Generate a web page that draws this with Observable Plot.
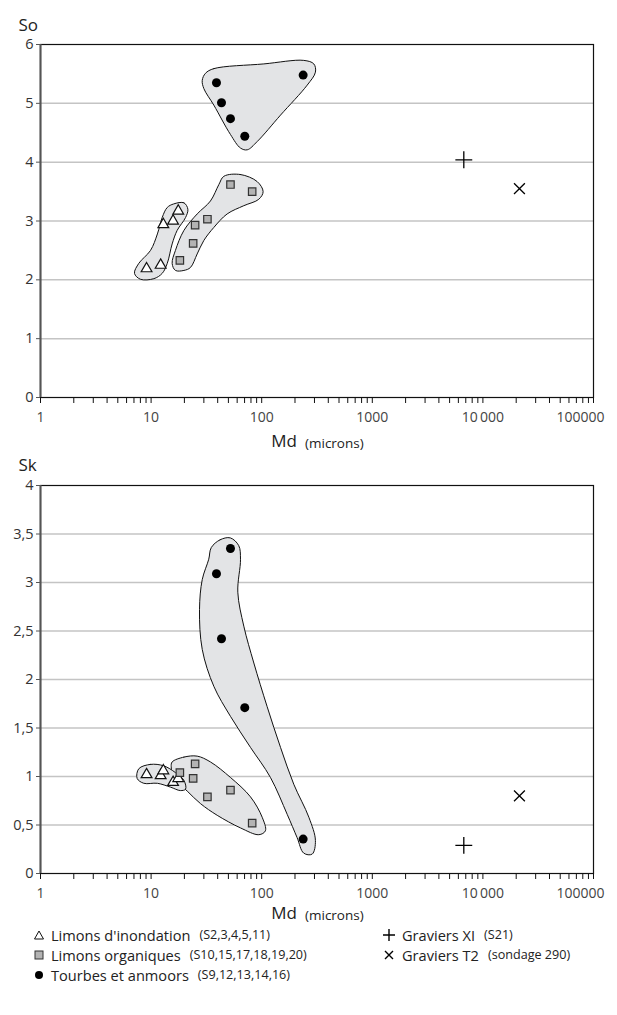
<!DOCTYPE html>
<html><head><meta charset="utf-8">
<script src="https://cdn.jsdelivr.net/npm/d3@7"></script>
<script src="https://cdn.jsdelivr.net/npm/@observablehq/plot@0.6"></script>
<style>
body{margin:0;background:#fff;width:617px;font-family:'Open Sans',sans-serif;}
#legend{position:relative;height:90px;color:#222;}
.item{position:absolute;display:flex;align-items:center;white-space:nowrap;font-size:14.6px;line-height:20px;height:20px;font-stretch:95%;}
.item small{font-size:12.6px;margin-left:9px;font-stretch:95%;}
.item svg{margin-right:6px;}
</style></head><body>
<div id="top"></div><div id="bottom"></div><div id="legend"></div>
<script>
// ---- data ----
const decades = [1, 10, 100, 1000, 10000, 100000];
const xTickLabels = ["1", "10", "100", "1000", "10\u2009000", "100000"];
const soTicks = [0, 1, 2, 3, 4, 5, 6];
const soTickLabels = ["0", "1", "2", "3", "4", "5", "6"];
const skTicks = [0, 0.5, 1, 1.5, 2, 2.5, 3, 3.5, 4];
const skTickLabels = ["0", "0,5", "1", "1,5", "2", "2,5", "3", "3,5", "4"];

const groups = ["Limons d'inondation", "Limons organiques", "Tourbes et anmoors", "Graviers XI", "Graviers T2"];
const groupRefs = ["(S2,3,4,5,11)", "(S10,15,17,18,19,20)", "(S9,12,13,14,16)", "(S21)", "(sondage 290)"];

const inondationMd = [9.1, 12.2, 12.9, 15.8, 17.6];
const inondationSo = [2.19, 2.25, 2.94, 3.0, 3.17];
const inondationSk = [1.02, 1.01, 1.06, 0.94, 0.98];

const organiquesMd = [18.2, 24.0, 25.0, 32.3, 52.2, 82];
const organiquesSo = [2.33, 2.62, 2.93, 3.03, 3.62, 3.5];
const organiquesSk = [1.04, 0.98, 1.13, 0.79, 0.86, 0.52];

const tourbesMd = [39, 43.3, 52.2, 70.3, 237];
const tourbesSo = [5.35, 5.01, 4.74, 4.44, 5.48];
const tourbesSk = [3.09, 2.42, 3.35, 1.71, 0.355];

const gravXIMd = [6720], gravXISo = [4.04], gravXISk = [0.29];
const gravT2Md = [21400], gravT2So = [3.55], gravT2Sk = [0.80];

// enclosing outlines [Md, value]
const soBlobTourbes = [[31,5.51],[36.9,5.59],[104.5,5.67],[240,5.73],[296,5.67],[306,5.53],[258,5.31],[148,4.80],[91,4.35],[74,4.21],[64.3,4.24],[52.2,4.47],[36.9,4.97],[30,5.25],[29,5.39]];
const soBlobOrganiques = [[45.5,3.76],[64.3,3.79],[91,3.67],[103,3.50],[94.2,3.37],[68.9,3.26],[48.7,3.12],[36.9,2.89],[30,2.67],[26.1,2.44],[22.7,2.21],[19.8,2.16],[16.6,2.16],[15.5,2.28],[16.6,2.5],[19.8,2.84],[26.1,3.12],[34.4,3.34],[41,3.62]];
const soBlobInondation = [[16.0,3.29],[19.8,3.31],[21.5,3.20],[20.5,3.06],[17.2,2.84],[15.5,2.61],[14.0,2.28],[12.6,2.11],[10.6,2.02],[8.0,2.01],[7.08,2.11],[7.74,2.28],[9.88,2.5],[11.4,2.78],[12.6,3.06],[14.0,3.23]];

const skBlobTourbes = [[35,3.36],[42,3.44],[52,3.46],[62,3.38],[64.3,3.24],[60.8,2.90],[68.9,2.55],[84.9,2.17],[112,1.72],[148,1.30],[195,0.92],[267,0.58],[306,0.34],[286,0.20],[240,0.21],[209,0.37],[170,0.61],[120,0.99],[79.2,1.30],[52.2,1.62],[36.9,1.93],[29,2.31],[27.4,2.72],[29,3.03],[33.2,3.24]];
const skBlobOrganiques = [[15.5,1.15],[19.8,1.20],[26.1,1.21],[34.4,1.15],[52.2,0.99],[79.2,0.79],[101,0.58],[108,0.44],[94.2,0.40],[64.3,0.47],[39.6,0.60],[28,0.72],[21.2,0.85],[16,0.99],[15.2,1.10]];
const skBlobInondation = [[7.74,1.08],[9.88,1.125],[13.0,1.11],[16.6,1.04],[19.8,0.96],[20.5,0.87],[18.4,0.855],[15.0,0.89],[11.4,0.93],[8.59,0.93],[7.48,0.98]];

// ---- build ----
const minorTicks = [];
for (let e = 0; e < 5; e++) for (let k = 1; k <= 9; k++) minorTicks.push(k * 10 ** e);
minorTicks.push(100000);

function rows(md, v) { return md.map((m, i) => ({md: m, v: v[i]})); }

const FONT = "'Open Sans', 'DejaVu Sans', sans-serif";

function chart({yTicks, yLabels, yMax, name, blobs, series, height, mt, mb, nameDy, mdDy, labDy}) {
  const labelMap = new Map(yTicks.map((t, i) => [t, yLabels[i]]));
  return Plot.plot({
    width: 617, height, marginLeft: 40, marginRight: 24, marginTop: mt, marginBottom: mb,
    x: {type: "log", domain: [1, 100000]},
    y: {domain: [0, yMax]},
    style: {fontFamily: FONT, color: "#333", background: "white", overflow: "visible"},
    marks: [
      Plot.gridY(yTicks.filter(t => t > 0 && t < yMax), {stroke: "#c4c4c4", strokeOpacity: 1, strokeWidth: 1.5}),
      ...blobs.map(b => Plot.line(b, {x: d => d[0], y: d => d[1], curve: "catmull-rom-closed", fill: "#e3e4e6", stroke: "#111", strokeWidth: 1})),
      Plot.frame({stroke: "#111", strokeWidth: 1.2}),
      Plot.ruleX([1], {stroke: "#555", strokeWidth: 2}),
      Plot.axisY({ticks: yTicks, tickFormat: d => labelMap.get(d), tickSize: 4, tickPadding: 3, fontSize: 14.5, label: null, stroke: "#555", fill: "#333"}),
      Plot.axisX({ticks: minorTicks, tickFormat: () => "", tickSize: 6, label: null, stroke: "#111"}),
      Plot.text(decades.slice(0, 5), {x: d => d, text: (d, i) => xTickLabels[i], frameAnchor: "bottom", dy: labDy, fontSize: 14, fill: "#444"}),
      Plot.text([decades[5]], {x: d => d, text: () => xTickLabels[5], frameAnchor: "bottom", dy: labDy, dx: 11, textAnchor: "end", fontSize: 14, fill: "#444"}),
      Plot.text([name], {frameAnchor: "top-left", dx: -22, dy: nameDy, textAnchor: "start", fontSize: 17, fill: "#222"}),
      Plot.text(["Md"], {frameAnchor: "bottom", dx: -20, dy: mdDy, textAnchor: "end", fontSize: 17, fill: "#222"}),
      Plot.text(["(microns)"], {frameAnchor: "bottom", dx: -12, dy: mdDy + 1, textAnchor: "start", fontSize: 13.5, fill: "#222"}),
      Plot.dot(series[0], {x: "md", y: "v", symbol: "triangle", r: 4, fill: "white", stroke: "#111", strokeWidth: 1.2}),
      Plot.dot(series[1], {x: "md", y: "v", symbol: "square", r: 4.2, fill: "#b3b3b3", stroke: "#333", strokeWidth: 1.2}),
      Plot.dot(series[2], {x: "md", y: "v", symbol: "circle", r: 4.5, fill: "#000"}),
      Plot.dot(series[3], {x: "md", y: "v", symbol: "plus", r: 5.5, stroke: "#000", strokeWidth: 1.3}),
      Plot.dot(series[4], {x: "md", y: "v", symbol: "times", r: 5, stroke: "#000", strokeWidth: 1.3})
    ]
  });
}

document.getElementById("top").append(chart({
  yTicks: soTicks, yLabels: soTickLabels, yMax: 6, name: "So",
  blobs: [soBlobTourbes, soBlobOrganiques, soBlobInondation],
  series: [rows(inondationMd, inondationSo), rows(organiquesMd, organiquesSo), rows(tourbesMd, tourbesSo), rows(gravXIMd, gravXISo), rows(gravT2Md, gravT2So)],
  height: 455, mt: 44, mb: 58, nameDy: -26, mdDy: 49, labDy: 24
}));

document.getElementById("bottom").append(chart({
  yTicks: skTicks, yLabels: skTickLabels, yMax: 4, name: "Sk",
  blobs: [skBlobOrganiques, skBlobInondation, skBlobTourbes],
  series: [rows(inondationMd, inondationSk), rows(organiquesMd, organiquesSk), rows(tourbesMd, tourbesSk), rows(gravXIMd, gravXISk), rows(gravT2Md, gravT2Sk)],
  height: 470, mt: 30, mb: 52, nameDy: -27, mdDy: 45, labDy: 24
}));

// ---- legend ----
const icons = [
  '<svg width="12" height="12"><path d="M6 2 L10.5 10 L1.5 10 Z" fill="white" stroke="#111" stroke-width="1"/></svg>',
  '<svg width="12" height="12"><rect x="2" y="2" width="8" height="8" fill="#b3b3b3" stroke="#333" stroke-width="1"/></svg>',
  '<svg width="12" height="12"><circle cx="6" cy="6" r="4" fill="#000"/></svg>',
  '<svg width="14" height="14"><path d="M7 1 V13 M1 7 H13" stroke="#000" stroke-width="1.4"/></svg>',
  '<svg width="14" height="14"><path d="M3 3 L11 11 M11 3 L3 11" stroke="#000" stroke-width="1.4"/></svg>'
];
const legendPos = [[33, 0], [33, 20], [33, 40], [382, 0], [382, 20]];
const legend = document.getElementById("legend");
groups.forEach((g, i) => {
  const d = document.createElement("div");
  d.className = "item";
  d.style.left = legendPos[i][0] + "px";
  d.style.top = legendPos[i][1] + "px";
  d.innerHTML = icons[i] + "<span>" + g + "</span><small>" + groupRefs[i] + "</small>";
  legend.append(d);
});
</script></body></html>
